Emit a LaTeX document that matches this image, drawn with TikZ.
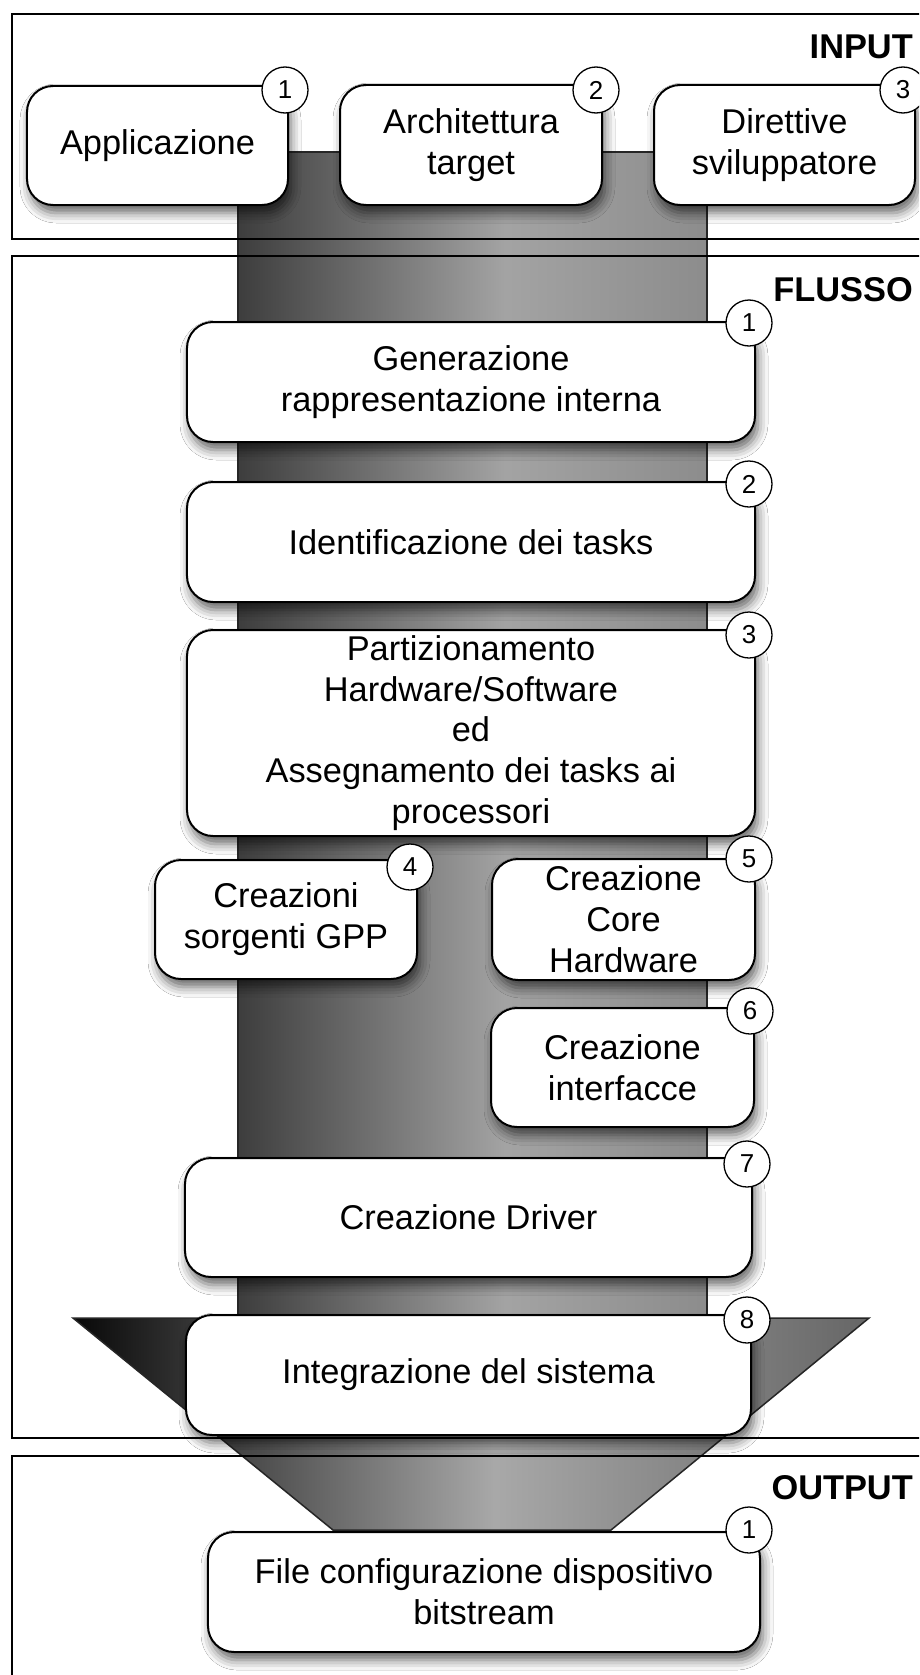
\documentclass[tikz,border=0pt]{standalone}
\usepackage{fontspec}
\setmainfont{Liberation Sans}
\usetikzlibrary{shadows.blur}

% greys of the pipe and of the funnel
\definecolor{pipeL}{gray}{0.24}
\definecolor{pipeM}{gray}{0.64}
\definecolor{pipeR}{gray}{0.55}
\definecolor{funL}{gray}{0.03}
\definecolor{funM}{gray}{0.66}
\definecolor{funR}{gray}{0.40}

% the path's bounding box spans 25bp..75bp of the shading
\pgfdeclarehorizontalshading{pipeshade}{100bp}{color(0bp)=(pipeL); color(25bp)=(pipeL); color(53.5bp)=(pipeM); color(75bp)=(pipeR); color(100bp)=(pipeR)}
\pgfdeclarehorizontalshading{funnelshade}{100bp}{color(0bp)=(funL); color(25bp)=(funL); color(51.5bp)=(funM); color(75bp)=(funR); color(100bp)=(funR)}

\tikzset{
  stepbox/.style={draw=black, line width=2bp, fill=white, rounded corners=26bp,
    align=center, inner sep=0pt, font=\fontsize{34.5}{41}\selectfont,
    blur shadow={shadow xshift=3bp, shadow yshift=-8bp, shadow blur radius=10bp, shadow opacity=60}},
  badge/.style={circle, draw=black, line width=1.3bp, fill=white, minimum size=46bp,
    inner sep=0pt, font=\fontsize{26}{26}\selectfont},
  panel/.style={draw=black, line width=2bp},
  paneltitle/.style={anchor=base east, inner sep=0pt, font=\bfseries\fontsize{34.5}{34.5}\selectfont}
}

\begin{document}
\begin{tikzpicture}[x=1bp, y=-1bp]
  \useasboundingbox (0,0) rectangle (919,1675);
  \clip (0,0) rectangle (919,1675);
  \fill[white] (0,0) rectangle (919,1675);

  % central pipe and the funnel at its end
  \shadedraw[shading=pipeshade, draw=black!85, line width=2bp] (238,152) rectangle (707,1318);
  \shadedraw[shading=funnelshade, draw=black!85, line width=1.5bp]
    (73,1318) -- (869,1318) -- (611,1530) -- (333,1530) -- cycle;

  % the three stage panels
  \draw[panel] (12,14) rectangle (940,239);
  \draw[panel] (12,256) rectangle (940,1438);
  \draw[panel] (12,1456) rectangle (940,1700);
  \node[paneltitle] (tin) at (913,59) {INPUT};
  \node[paneltitle] (tflow) at (913,301) {FLUSSO};
  \node[paneltitle] (tout) at (913,1499) {OUTPUT};

  % inputs
  \node[stepbox, minimum width=261bp, minimum height=119bp] (in1) at (157.5,145.5) {Applicazione};
  \node[stepbox, minimum width=262bp, minimum height=120bp] (in2) at (471,145) {Architettura\\target};
  \node[stepbox, minimum width=261bp, minimum height=120bp] (in3) at (784.5,145) {Direttive\\sviluppatore};
  \node[badge] (bin1) at (285,90) {1};
  \node[badge] (bin2) at (596,90) {2};
  \node[badge] (bin3) at (903,90) {3};

  % flow steps
  \node[stepbox, minimum width=568bp, minimum height=120bp] (f1) at (471,382) {Generazione\\rappresentazione interna};
  \node[badge] (bf1) at (749,323) {1};
  \node[stepbox, minimum width=568bp, minimum height=120bp] (f2) at (471,542) {Identificazione dei tasks};
  \node[badge] (bf2) at (749,484) {2};
  \node[stepbox, minimum width=568bp, minimum height=206bp] (f3) at (471,733)
    {Partizionamento\\Hardware/Software\\ed\\Assegnamento dei tasks ai\\processori};
  \node[badge] (bf3) at (749,635) {3};
  \node[stepbox, minimum width=262bp, minimum height=119bp] (f4) at (286,919.5) {Creazioni\\sorgenti GPP};
  \node[badge] (bf4) at (410,867) {4};
  \node[stepbox, minimum width=263bp, minimum height=121bp] (f5) at (623.5,919.5) {Creazione\\Core\\Hardware};
  \node[badge] (bf5) at (749,859) {5};
  \node[stepbox, minimum width=263bp, minimum height=119bp] (f6) at (622.5,1067.5) {Creazione\\interfacce};
  \node[badge] (bf6) at (750,1011) {6};
  \node[stepbox, minimum width=567bp, minimum height=119bp] (f7) at (468.5,1217.5) {Creazione Driver};
  \node[badge] (bf7) at (747,1164) {7};
  \node[stepbox, minimum width=565bp, minimum height=120bp] (f8) at (468.5,1375) {Integrazione del sistema};
  \node[badge] (bf8) at (747,1320) {8};

  % output
  \node[stepbox, minimum width=552bp, minimum height=120bp] (o1) at (484,1592) {File configurazione dispositivo\\bitstream};
  \node[badge] (bo1) at (749,1530) {1};
\end{tikzpicture}
\end{document}
